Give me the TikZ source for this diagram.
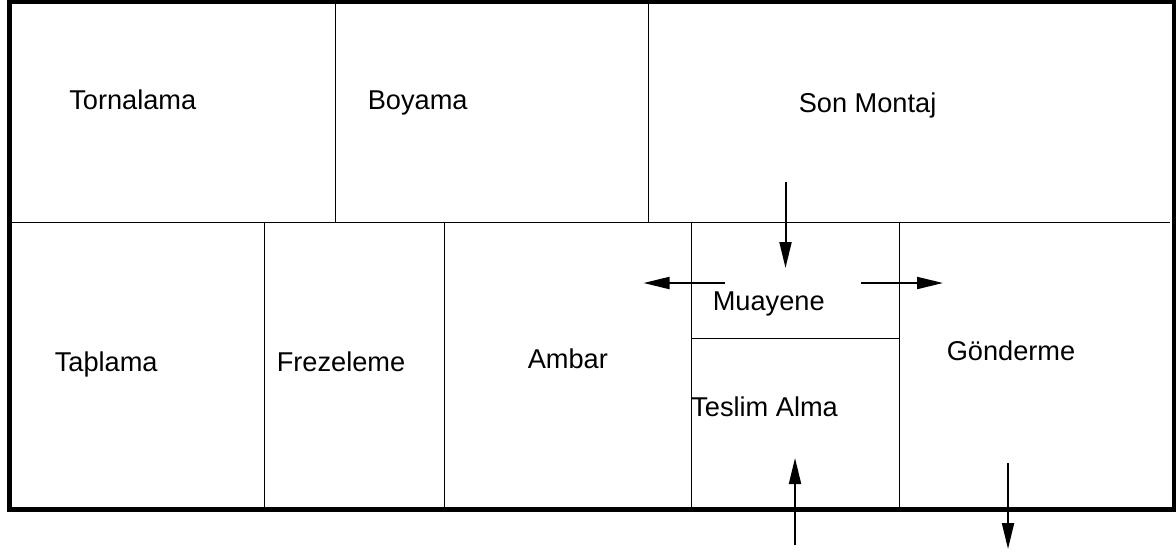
\documentclass[tikz,border=0pt]{standalone}
\usepackage{fontspec}
\setmainfont{Liberation Sans}
\usetikzlibrary{arrows.meta}
\tikzset{
  wall/.style={line width=3.75pt,line join=miter},
  room/.style={line width=0.75pt},
  flow/.style={line width=1.5pt,-{Triangle[length=19.5pt,width=9pt]}},
  label/.style={anchor=base west,inner sep=0pt,font=\fontsize{20.4}{24}\selectfont}
}
\begin{document}
\begin{tikzpicture}[x=0.75pt,y=-0.75pt]
      \useasboundingbox (0,0) rectangle (1176,551);
      \draw
        (69,109) node[label] (tornalama){Tornalama}
        (367.5,109) node[label] (boyama){Boyama}
        (798.5,112) node[label] (sonmontaj){Son Montaj}
        (54.5,371.5) node[label] (taplama){Taþlama}
        (276.5,371.5) node[label] (frezeleme){Frezeleme}
        (527.5,368.5) node[label] (ambar){Ambar}
        (712.5,310.5) node[label] (muayene){Muayene}
        (691,416.5) node[label] (teslim){Teslim Alma}
        (946.5,360.5) node[label] (gonderme){Gönderme};
      \begin{scope}[room]
        \draw (11,222) to (1170,222);
        \draw (335.5,4) to (335.5,222);
        \draw (648,4) to (648,222);
        \draw (264.5,222) to (264.5,507);
        \draw (444.5,222) to (444.5,507);
        \draw (691,222) to (691,507);
        \draw (899,222) to (899,507);
        \draw (691,338) to (899,338);
      \end{scope}
      \draw[wall] (9.2,1.5) rectangle (1174,509.5);
      \coordinate (a1) at (785.5,182);
      \coordinate (a2) at (785.5,268);
      \coordinate (b1) at (725,283);
      \coordinate (b2) at (643.5,283);
      \coordinate (c1) at (861,283);
      \coordinate (c2) at (943,283);
      \coordinate (d1) at (795,545);
      \coordinate (d2) at (795,458);
      \coordinate (e1) at (1008,463);
      \coordinate (e2) at (1008,549);
      \begin{scope}[flow]
        \draw (a1) to (a2);
        \draw (b1) to (b2);
        \draw (c1) to (c2);
        \draw (d1) to (d2);
        \draw (e1) to (e2);
      \end{scope}
    \end{tikzpicture}
\end{document}
